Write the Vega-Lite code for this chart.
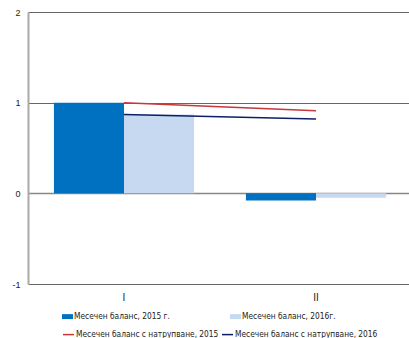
{
  "$schema": "https://vega.github.io/schema/vega-lite/v6.json",
  "width": 384,
  "height": 272,
  "autosize": "none",
  "padding": {"left": 28, "top": 12, "right": 0, "bottom": 54},
  "background": "white",
  "config": {
    "view": {"stroke": null},
    "font": "'DejaVu Sans Condensed', 'Liberation Sans', sans-serif",
    "axis": {"labelFont": "Liberation Sans", "labelFontSize": 9, "labelColor": "#222"}
  },
  "datasets": {
    "bars": [
      {"cat": "I", "series": "Месечен баланс, 2015 г.", "value": 1.0},
      {"cat": "I", "series": "Месечен баланс, 2016г.", "value": 0.87},
      {"cat": "II", "series": "Месечен баланс, 2015 г.", "value": -0.08},
      {"cat": "II", "series": "Месечен баланс, 2016г.", "value": -0.05}
    ],
    "lines": [
      {"cat": "I", "series": "Месечен баланс с натрупване, 2015", "value": 1.0},
      {"cat": "II", "series": "Месечен баланс с натрупване, 2015", "value": 0.91},
      {"cat": "I", "series": "Месечен баланс с натрупване, 2016", "value": 0.87},
      {"cat": "II", "series": "Месечен баланс с натрупване, 2016", "value": 0.82}
    ]
  },
  "layer": [
    {
      "data": {"name": "bars"},
      "mark": {"type": "bar"},
      "encoding": {
        "x": {
          "field": "cat", "type": "nominal",
          "scale": {"paddingInner": 0.27, "paddingOuter": 0.135},
          "axis": {"title": null, "labelAngle": 0, "ticks": false, "labelPadding": 8, "domain": false, "labelFontSize": 10}
        },
        "xOffset": {"field": "series", "type": "nominal", "sort": ["Месечен баланс, 2015 г.", "Месечен баланс, 2016г."]},
        "y": {
          "field": "value", "type": "quantitative",
          "scale": {"domain": [-1, 2], "nice": false},
          "axis": {
            "title": null, "values": [-1, 0, 1, 2], "labelExpr": "datum.value + ''", "ticks": false, "labelPadding": 8,
            "domainColor": "#aaaaaa", "domainWidth": 2,
            "gridColor": {"condition": {"test": "datum.value === 0", "value": "#888888"}, "value": "#666666"},
            "gridWidth": {"condition": {"test": "datum.value === 0", "value": 1.5}, "value": 1}
          }
        },
        "fill": {
          "field": "series", "type": "nominal",
          "scale": {"domain": ["Месечен баланс, 2015 г.", "Месечен баланс, 2016г."], "range": ["#0070C0", "#C6D9F1"]},
          "legend": {
            "title": null, "orient": "none", "legendX": 34, "legendY": 299, "direction": "horizontal",
            "columns": 2, "columnPadding": 60, "symbolType": "M-1,-0.45H1V0.45H-1Z", "symbolSize": 121,
            "symbolStrokeWidth": 0, "labelFontSize": 8.3, "labelOffset": 1, "labelLimit": 300, "labelColor": "#222"
          }
        }
      }
    },
    {
      "data": {"name": "lines"},
      "mark": {"type": "line", "strokeWidth": 1.5},
      "encoding": {
        "x": {"field": "cat", "type": "nominal"},
        "y": {"field": "value", "type": "quantitative"},
        "stroke": {
          "field": "series", "type": "nominal",
          "scale": {"domain": ["Месечен баланс с натрупване, 2015", "Месечен баланс с натрупване, 2016"], "range": ["#C8373A", "#0B1F66"]},
          "legend": {
            "title": null, "orient": "none", "legendX": 34, "legendY": 316, "direction": "horizontal",
            "columns": 2, "columnPadding": 0, "symbolType": "stroke", "symbolSize": 121, "symbolStrokeWidth": 1.5,
            "labelFontSize": 8.3, "labelOffset": 1, "labelLimit": 300, "labelColor": "#222"
          }
        }
      }
    }
  ]
}
